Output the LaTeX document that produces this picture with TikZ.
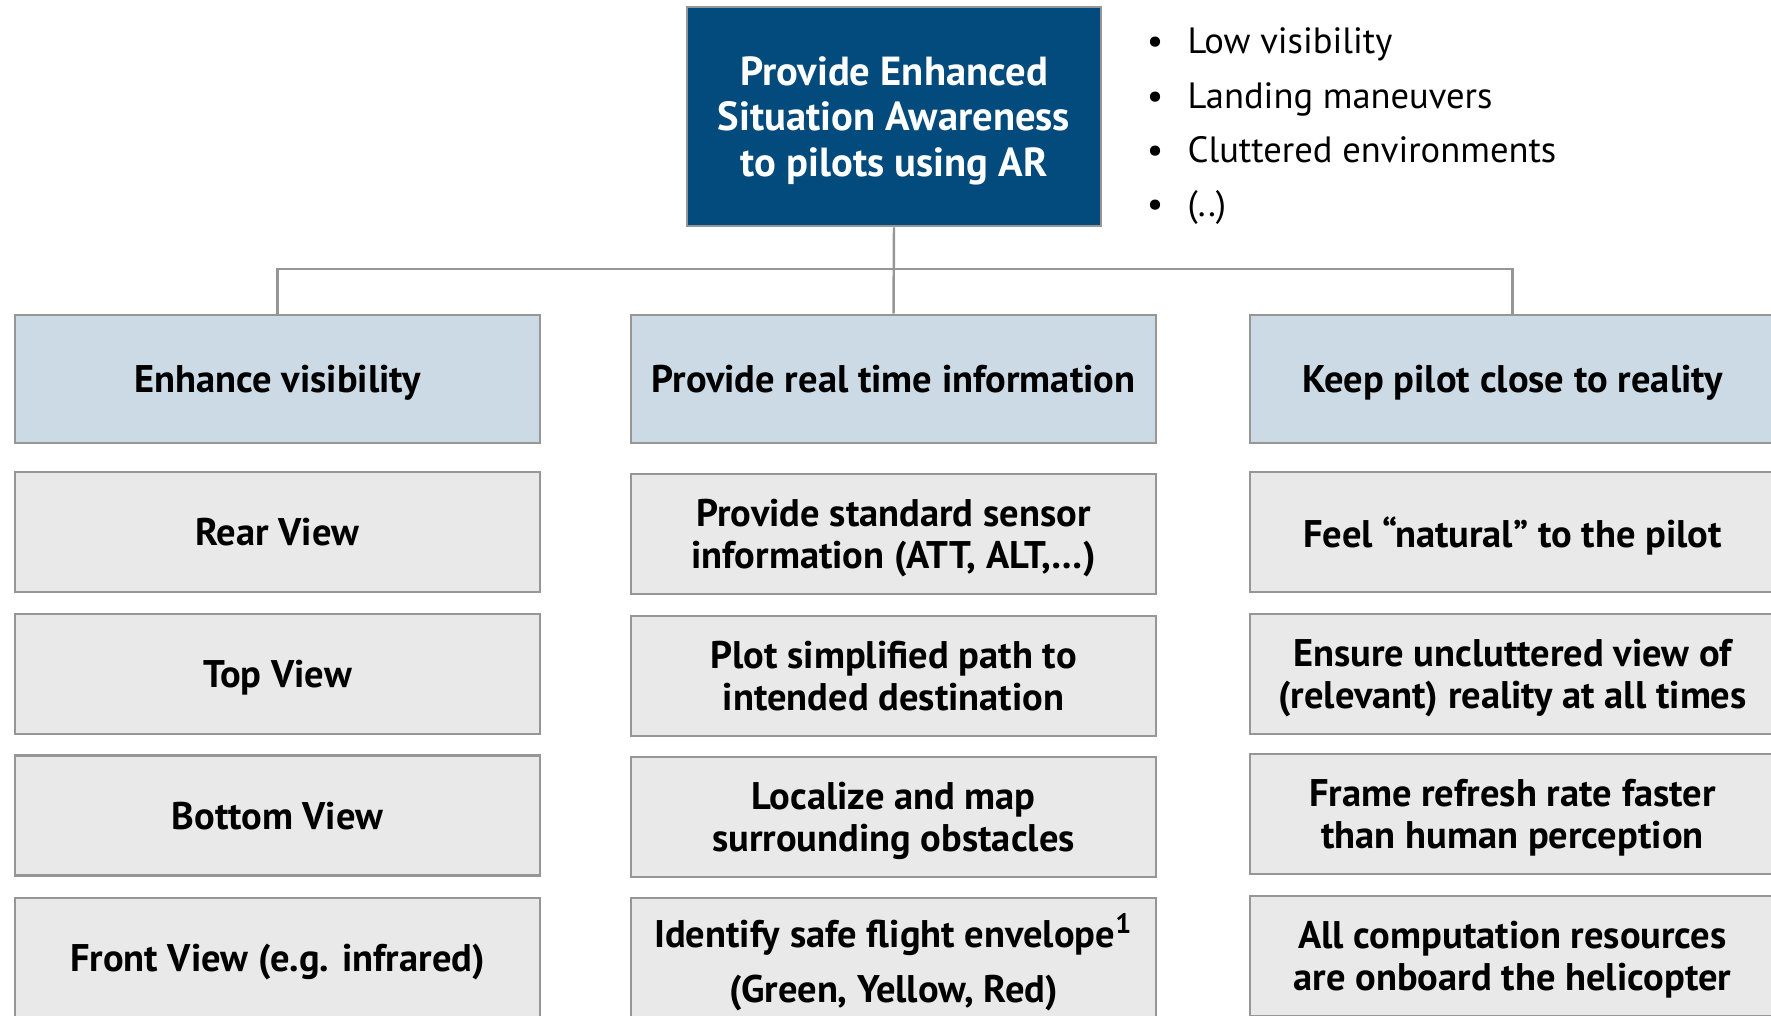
\documentclass[tikz,border=0pt]{standalone}
\usepackage{fontspec}
\setmainfont{PT Sans}
\usepackage{xcolor}
\definecolor{argoal}{RGB}{3,75,125}
\definecolor{arhead}{RGB}{204,218,229}
\definecolor{argrey}{RGB}{233,233,233}
\definecolor{arline}{RGB}{150,150,150}
\usetikzlibrary{positioning}

\begin{document}
\begin{tikzpicture}[x=0.1mm, y=-0.1mm,
  goalbox/.style={draw=arline, line width=0.8pt, fill=argoal, text=white,
    font=\fontsize{11.55}{12.9}\selectfont\bfseries, align=center,
    minimum width=41.4mm, minimum height=21.9mm, inner sep=0pt, text depth=0pt},
  headbox/.style={draw=arline, line width=0.8pt, fill=arhead,
    font=\fontsize{10.95}{11.9}\selectfont\bfseries, align=center,
    minimum width=52.5mm, minimum height=12.8mm, inner sep=0pt, text depth=0pt},
  itembox/.style={headbox, fill=argrey, minimum height=12mm},
  conn/.style={draw=arline, line width=0.7pt}]

\useasboundingbox (0,0) rectangle (1771,1015);
\clip (0,0) rectangle (1771,1015);

% === Goal ===
\node[goalbox] (goal) at (894,116.5)
     {Provide Enhanced\\Situation Awareness\\to pilots using AR};

% Situations
\foreach \txt [count=\i] in {Low visibility, Landing maneuvers,
                             Cluttered environments, (..)} {
  \node[font=\fontsize{10.4}{12}\selectfont, inner sep=0pt, anchor=base]
       (dot\i) at (1155,{54+54.2*(\i-1)}) {•};
  \node[font=\fontsize{10.4}{12}\selectfont, inner sep=0pt, anchor=base west]
       (sit\i) at (1187,{54+54.2*(\i-1)}) {\txt};
}

% === Column 1: Enhance visibility ===
\node[headbox] (vis) at (277.5,379) {Enhance visibility};
\node[itembox] (rear) at (277.5,532) {Rear View};
\node[itembox] (top) at (277.5,674) {Top View};
\node[itembox] (bottom) at (277.5,815.5) {Bottom View};
\node[itembox] (front) at (277.5,958) {Front View (e.g. infrared)};

% === Column 2: Provide real time information ===
\node[headbox] (info) at (893.5,379) {Provide real time information};
\node[itembox] (sensor) at (893.5,534) {Provide standard sensor\\information (ATT, ALT,…)};
\node[itembox] (path) at (893.5,676) {Plot simplified path to\\intended destination};
\node[itembox] (obst) at (893.5,817) {Localize and map\\surrounding obstacles};
\node[itembox] (env) at (893.5,958)
     {Identify safe flight envelope\textsuperscript{1}\\[3.5pt](Green, Yellow, Red)};

% === Column 3: Keep pilot close to reality ===
\node[headbox] (real) at (1512.5,379) {Keep pilot close to reality};
\node[itembox] (natural) at (1512.5,532) {Feel “natural” to the pilot};
\node[itembox] (unclut) at (1512.5,674) {Ensure uncluttered view of\\(relevant) reality at all times};
\node[itembox] (frame) at (1512.5,814) {Frame refresh rate faster\\than human perception};
\node[itembox] (onboard) at (1512.5,956) {All computation resources\\are onboard the helicopter};

% Tree connectors
\coordinate (bus) at (894,269);
\draw[conn] (goal.south) -- (info.north);
\draw[conn] (vis.north) -- (vis.north |- bus) -- (real.north |- bus) -- (real.north);

\end{tikzpicture}
\end{document}
